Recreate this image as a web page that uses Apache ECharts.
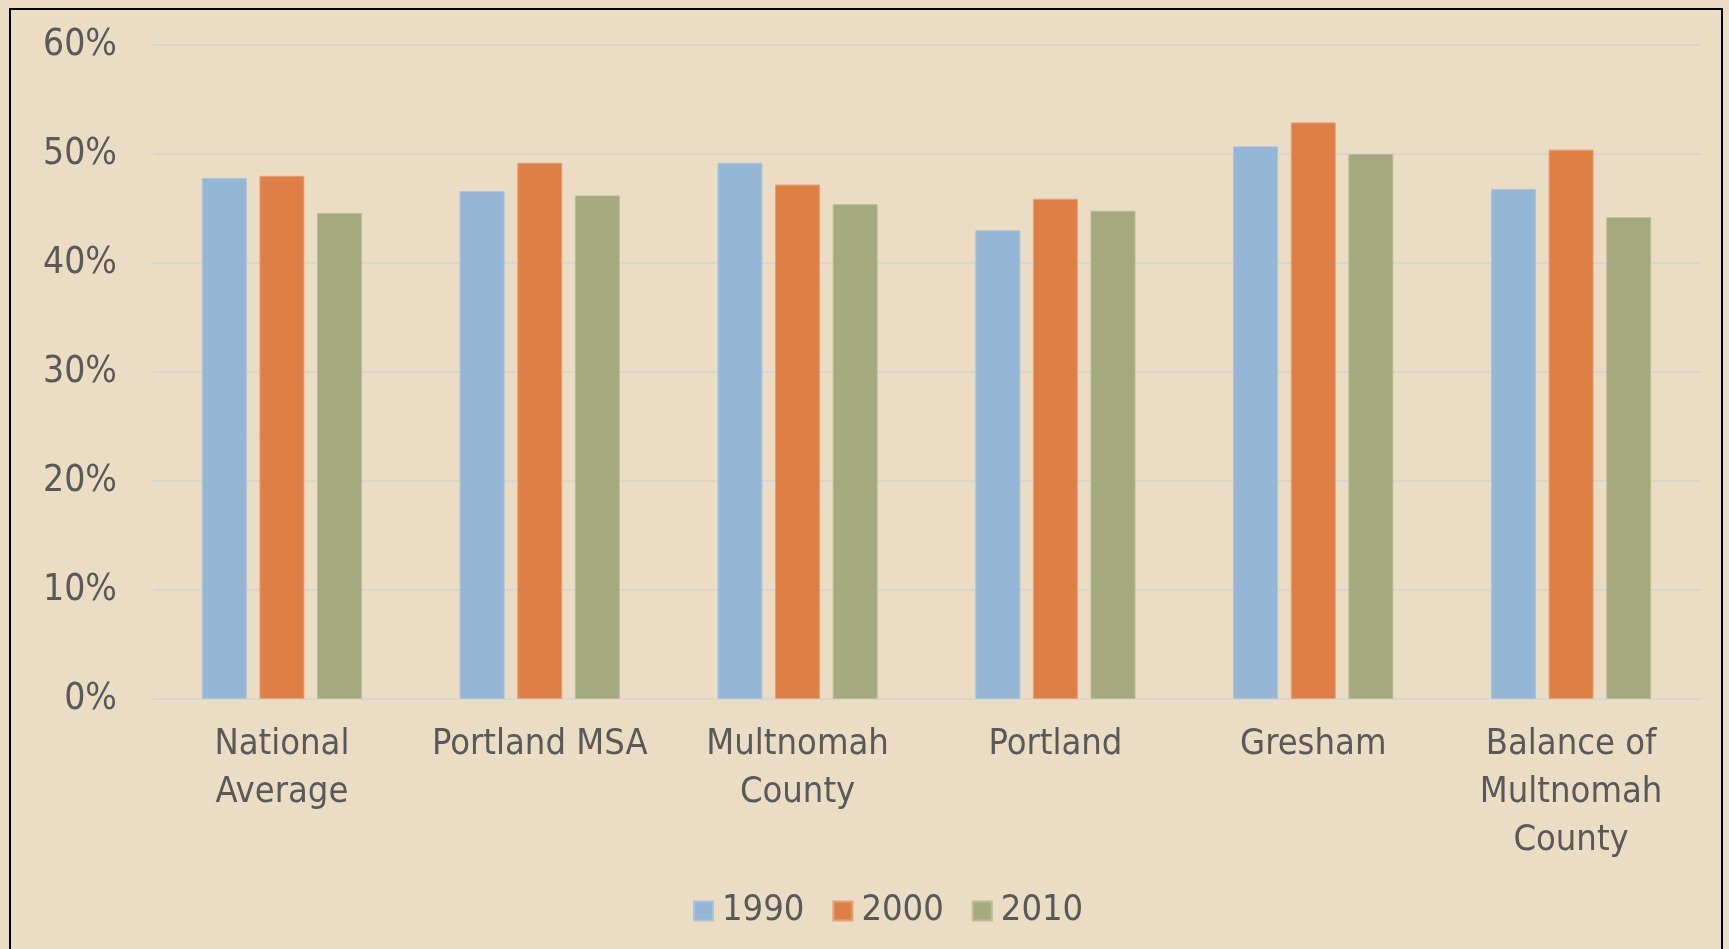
<!DOCTYPE html>
<html>
<head>
<meta charset="utf-8">
<script src="https://cdn.jsdelivr.net/npm/echarts@6/dist/echarts.min.js"></script>
<style>
  html, body { margin: 0; padding: 0; background: #EBDDC4; }
  #chart { width: 1729px; height: 949px; }
</style>
</head>
<body>
<div id="chart"></div>
<script>
// categories and share values (fraction)
const categories = ['National\nAverage', 'Portland MSA', 'Multnomah\nCounty', 'Portland', 'Gresham', 'Balance of\nMultnomah\nCounty'];
const years = ['1990', '2000', '2010'];
const values1990 = [0.478, 0.466, 0.492, 0.430, 0.507, 0.468];
const values2000 = [0.480, 0.492, 0.472, 0.459, 0.529, 0.504];
const values2010 = [0.446, 0.462, 0.454, 0.448, 0.500, 0.442];
const colors = ['#95B6D4', '#DE8046', '#A4AA7E'];
const borders = ['#A9C4DD', '#E8A077', '#B9BE98'];

const FONT = '"Liberation Sans Narrow", "DejaVu Sans Condensed", Lato, sans-serif';
const TEXT = '#595959';

const chart = echarts.init(document.getElementById('chart'));

const seriesData = [values1990, values2000, values2010];

const option = {
  backgroundColor: '#EBDDC4',
  animation: false,
  textStyle: { fontFamily: FONT },
  graphic: [
    {
      type: 'rect',
      shape: { x: 10, y: 9, width: 1712, height: 960 },
      style: { fill: 'none', stroke: '#000', lineWidth: 2 },
      silent: true
    }
  ],
  grid: { left: 153, right: 29, top: 45, bottom: 250 },
  legend: {
    left: 688,
    top: 888,
    itemWidth: 19,
    itemHeight: 19,
    itemGap: 28,
    icon: 'rect',
    textStyle: { fontFamily: FONT, fontSize: 36, color: TEXT, padding: [0, 0, 0, 4] },
    data: years
  },
  xAxis: {
    type: 'category',
    data: categories,
    axisLine: { lineStyle: { color: '#DAD6CE', width: 2 } },
    axisTick: { show: false },
    axisLabel: {
      interval: 0,
      margin: 22,
      fontFamily: FONT,
      fontSize: 36,
      lineHeight: 48,
      color: TEXT
    }
  },
  yAxis: {
    type: 'value',
    min: 0,
    max: 0.6,
    interval: 0.1,
    axisLine: { show: false },
    axisTick: { show: false },
    splitLine: { lineStyle: { color: '#DAD6CE', width: 2 } },
    axisLabel: {
      margin: 36,
      fontFamily: FONT,
      fontSize: 37,
      color: TEXT,
      formatter: (v) => Math.round(v * 100) + '%'
    }
  },
  series: years.map((y, i) => ({
    name: y,
    type: 'bar',
    barWidth: 45,
    barGap: '28%',
    itemStyle: { color: colors[i], borderColor: borders[i], borderWidth: 1 },
    data: seriesData[i]
  }))
};

chart.setOption(option);
</script>
</body>
</html>
